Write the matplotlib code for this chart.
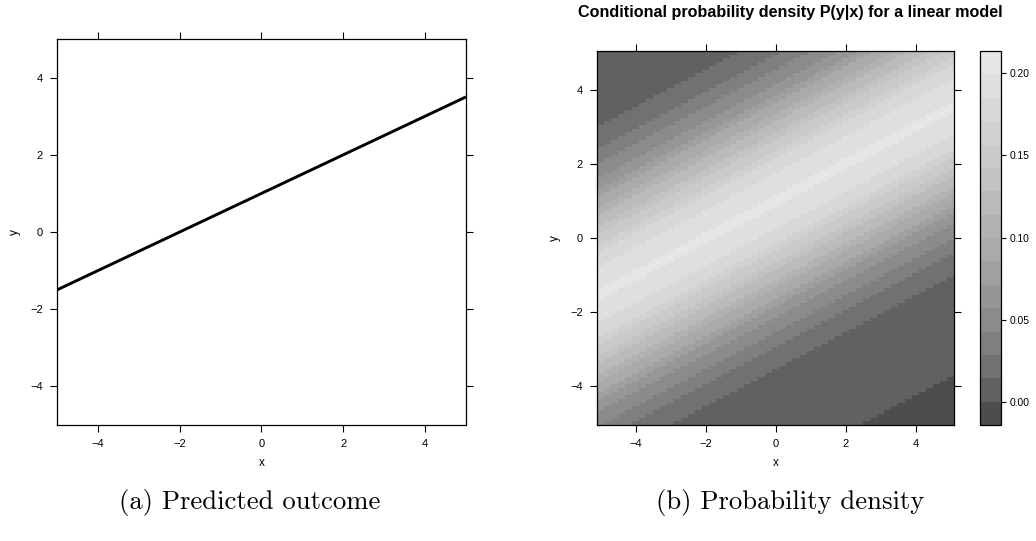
import numpy as np
import matplotlib
matplotlib.use("Agg")
import matplotlib.pyplot as plt
from matplotlib.colors import ListedColormap, BoundaryNorm

# model: y = a + b*x, noise sd
intercept = 1.0
slope = 0.5
sigma = 2.0

# line endpoints (panel a)
line_x = [-5, 5]
line_y = [-1.5, 3.5]

# grid for the level plot (panel b)
grid_x = np.arange(-5, 5.0001, 0.2)
grid_y = np.arange(-5, 5.0001, 0.1)
tick_vals = [-4, -2, 0, 2, 4]
cbar_ticks = [0.00, 0.05, 0.10, 0.15, 0.20]
n_cuts = 16

plt.rcParams['font.family'] = ['Liberation Sans', 'DejaVu Sans']
plt.rcParams['font.size'] = 8

fig = plt.figure(figsize=(10.36, 5.41), dpi=100)


def lattice_axes(ax):
    ax.set_xticks(tick_vals)
    ax.set_yticks(tick_vals)
    ax.tick_params(direction='out', length=5, width=0.8, top=True, right=True,
                   labeltop=False, labelright=False, labelsize=8, pad=5)
    ax.set_xlabel('x', fontsize=8.5, labelpad=6)
    ax.set_ylabel('y', fontsize=8.5, labelpad=7)
    for s in ax.spines.values():
        s.set_linewidth(0.9)


# (a) predicted outcome
ax1 = fig.add_axes([0.0550, 0.2144, 0.3948, 0.7135])
ax1.plot(line_x, line_y, color='black', lw=2.1, solid_capstyle='butt')
ax1.set_xlim(-5, 5)
ax1.set_ylim(-5, 5)
lattice_axes(ax1)

# (b) conditional density
X, Y = np.meshgrid(grid_x, grid_y)
mu = intercept + slope * X
Z = np.exp(-0.5 * ((Y - mu) / sigma) ** 2) / (sigma * np.sqrt(2 * np.pi))

zmin, zmax = Z.min(), Z.max()
pad = 0.07 * (zmax - zmin)
levels = np.linspace(zmin - pad, zmax + pad, n_cuts + 1)
g = np.linspace(0.3 ** 2.2, 0.9 ** 2.2, n_cuts) ** (1 / 2.2)
cmap = ListedColormap([(v, v, v) for v in g])
norm = BoundaryNorm(levels, cmap.N)

dx = grid_x[1] - grid_x[0]
dy = grid_y[1] - grid_y[0]
ex = np.append(grid_x - dx / 2, grid_x[-1] + dx / 2)
ey = np.append(grid_y - dy / 2, grid_y[-1] + dy / 2)

ax2 = fig.add_axes([0.5763, 0.2144, 0.3446, 0.6913])
mesh = ax2.pcolormesh(ex, ey, Z, cmap=cmap, norm=norm, shading='flat')
ax2.set_xlim(ex[0], ex[-1])
ax2.set_ylim(ey[0], ey[-1])
lattice_axes(ax2)

cax = fig.add_axes([0.9459, 0.2144, 0.0203, 0.6913])
cb = fig.colorbar(mesh, cax=cax, boundaries=levels, ticks=cbar_ticks)
cb.minorticks_off()
cb.ax.set_yticklabels(['%.2f' % t for t in cbar_ticks])
cb.ax.tick_params(direction='out', length=3.5, width=0.8, labelsize=7.4, pad=2.5)
cb.outline.set_linewidth(0.9)

fig.text(790 / 1036, 1 - 13 / 541,
         'Conditional probability density P(y|x) for a linear model',
         ha='center', va='center', fontsize=11.6, fontweight='bold')

fig.text(250 / 1036, 1 - 503 / 541, '(a) Predicted outcome',
         ha='center', va='center', fontsize=19.2, family='cmr10')
fig.text(790 / 1036, 1 - 503 / 541, '(b) Probability density',
         ha='center', va='center', fontsize=19.2, family='cmr10')

fig.savefig('out.png', dpi=100)
